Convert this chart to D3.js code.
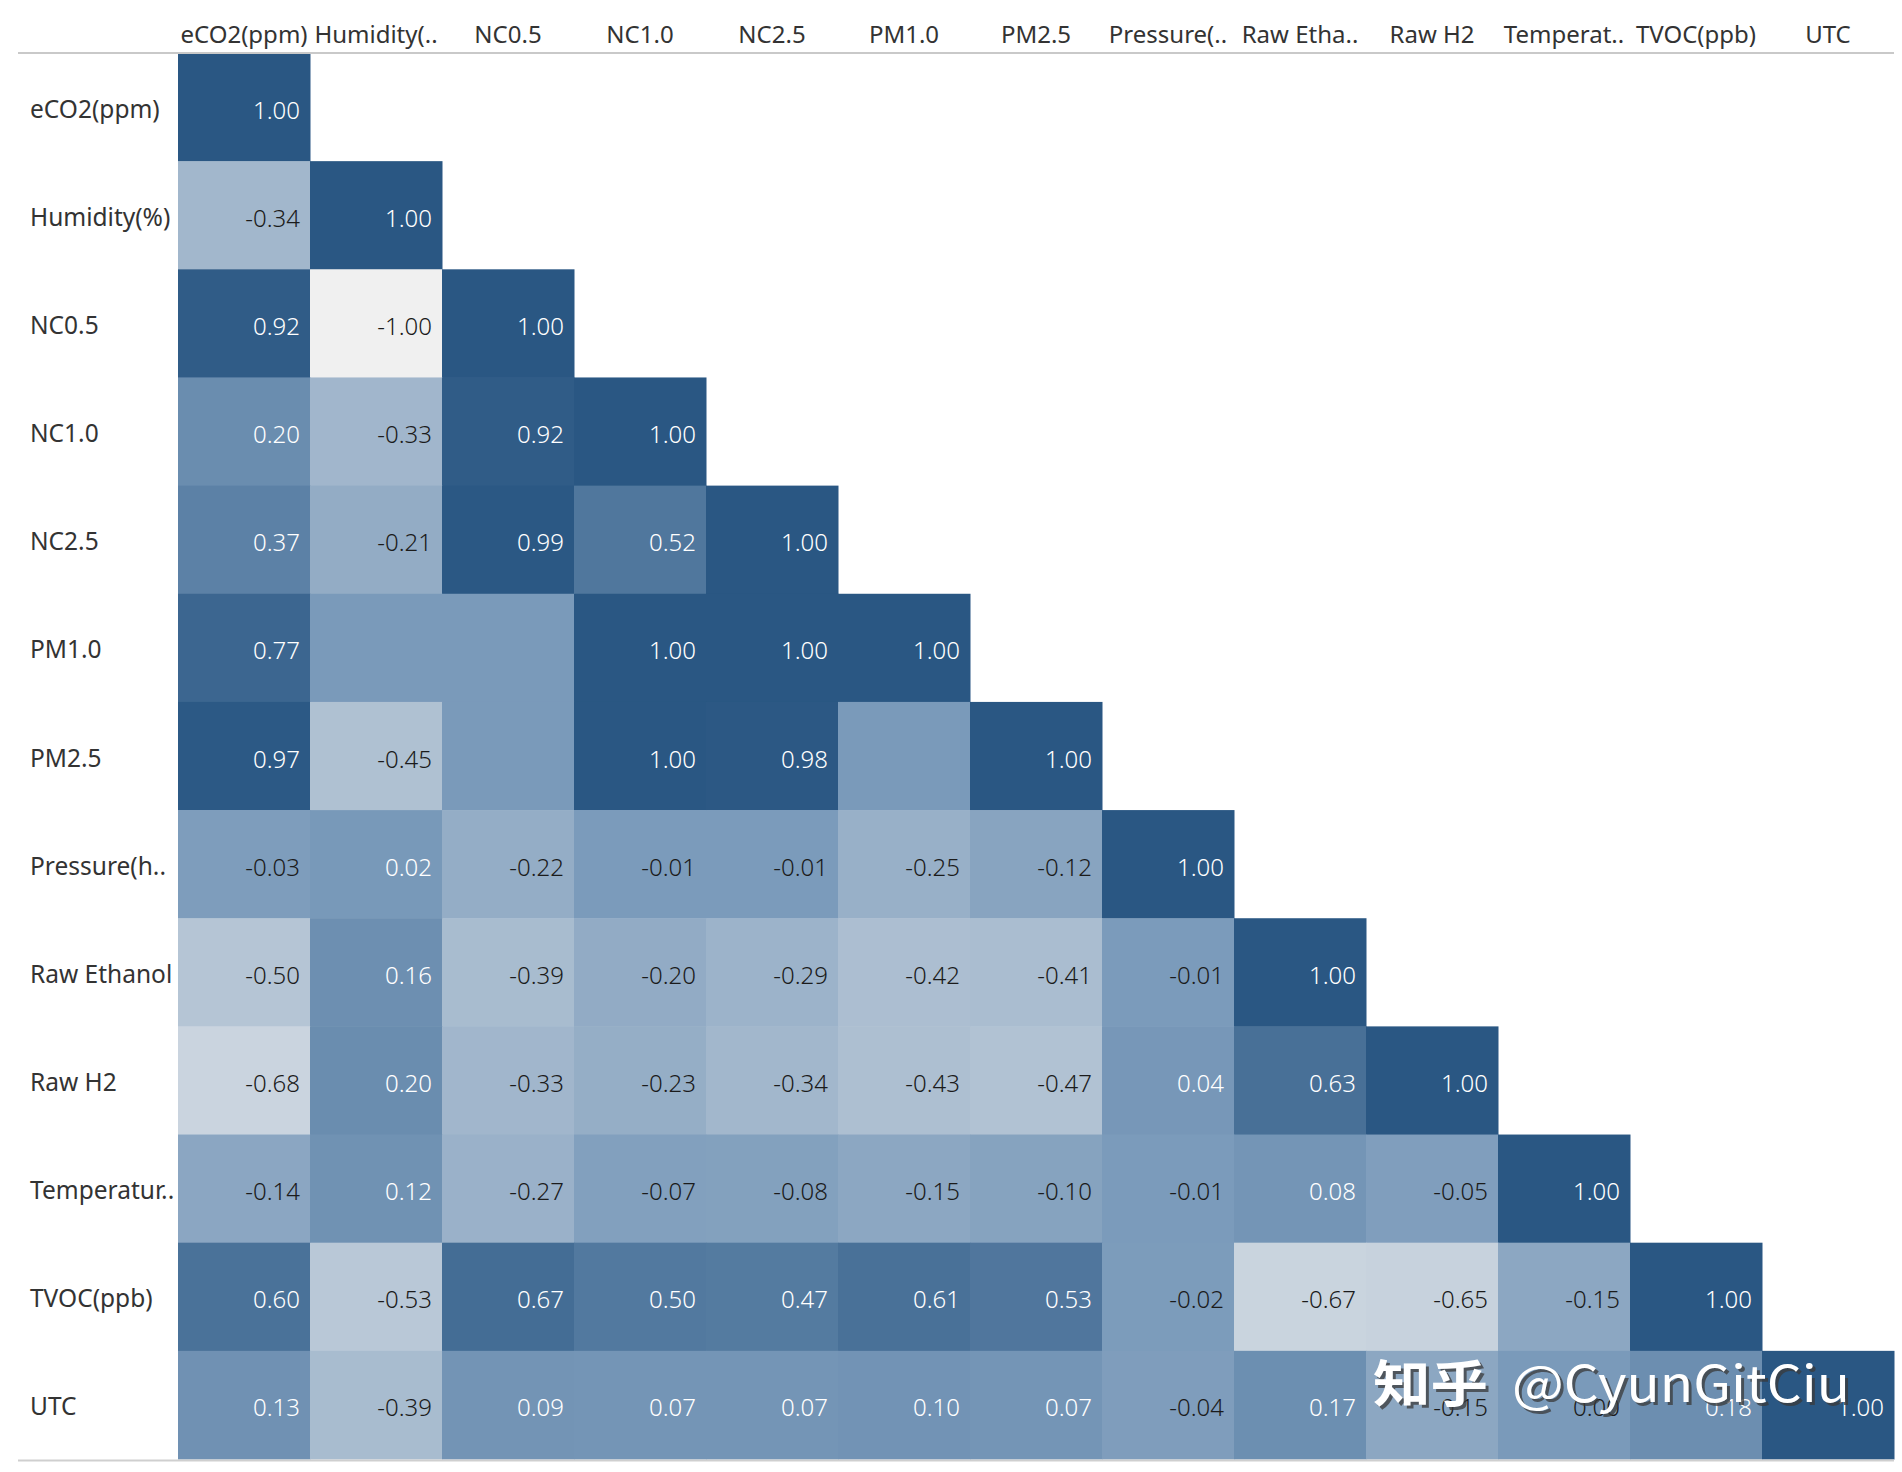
<!DOCTYPE html>
<html>
<head>
<meta charset="utf-8">
<script src="https://cdn.jsdelivr.net/npm/d3@7"></script>
<style>
  html, body { margin: 0; padding: 0; background: #ffffff; }
  svg { display: block; }
</style>
</head>
<body>
<svg id="chart" width="1902" height="1472"></svg>
<script>
// ---- data ----
const variables = ["eCO2(ppm)", "Humidity(%)", "NC0.5", "NC1.0", "NC2.5", "PM1.0", "PM2.5",
  "Pressure(hPa)", "Raw Ethanol", "Raw H2", "Temperature[C]", "TVOC(ppb)", "UTC"];
const columnLabels = ["eCO2(ppm)", "Humidity(..", "NC0.5", "NC1.0", "NC2.5", "PM1.0", "PM2.5",
  "Pressure(..", "Raw Etha..", "Raw H2", "Temperat..", "TVOC(ppb)", "UTC"];
const rowLabels = ["eCO2(ppm)", "Humidity(%)", "NC0.5", "NC1.0", "NC2.5", "PM1.0", "PM2.5",
  "Pressure(h..", "Raw Ethanol", "Raw H2", "Temperatur..", "TVOC(ppb)", "UTC"];
// lower-triangle correlation rows (null = no value shown)
const correlations = [
  [1.00],
  [-0.34, 1.00],
  [0.92, -1.00, 1.00],
  [0.20, -0.33, 0.92, 1.00],
  [0.37, -0.21, 0.99, 0.52, 1.00],
  [0.77, null, null, 1.00, 1.00, 1.00],
  [0.97, -0.45, null, 1.00, 0.98, null, 1.00],
  [-0.03, 0.02, -0.22, -0.01, -0.01, -0.25, -0.12, 1.00],
  [-0.50, 0.16, -0.39, -0.20, -0.29, -0.42, -0.41, -0.01, 1.00],
  [-0.68, 0.20, -0.33, -0.23, -0.34, -0.43, -0.47, 0.04, 0.63, 1.00],
  [-0.14, 0.12, -0.27, -0.07, -0.08, -0.15, -0.10, -0.01, 0.08, -0.05, 1.00],
  [0.60, -0.53, 0.67, 0.50, 0.47, 0.61, 0.53, -0.02, -0.67, -0.65, -0.15, 1.00],
  [0.13, -0.39, 0.09, 0.07, 0.07, 0.10, 0.07, -0.04, 0.17, -0.15, 0.00, 0.18, 1.00]
];
const watermark = ["知乎", "@CyunGitCiu"];

// ---- build ----
const svg = d3.select("#chart");
const gridLeft = 178, gridRight = 1894, gridTop = 53, gridBottom = 1459;
const x = d3.scaleBand().domain(d3.range(variables.length)).range([gridLeft, gridRight]).padding(0);
const y = d3.scaleBand().domain(d3.range(variables.length)).range([gridTop, gridBottom]).padding(0);
const color = d3.scaleLinear().domain([-1, 0, 1]).range(["#f0f0f0", "#7a9aba", "#2a5783"]);
const fmt = d3.formatLocale({ decimal: ".", thousands: ",", grouping: [3], currency: ["", ""], minus: "-" }).format(".2f");

const cells = [];
correlations.forEach((row, i) => row.forEach((v, j) => cells.push({ i, j, v })));

const fontFamily = "'Noto Sans', 'Open Sans', sans-serif";

svg.append("g").selectAll("rect").data(cells).join("rect")
  .attr("x", d => x(d.j))
  .attr("y", d => y(d.i))
  .attr("width", x.bandwidth() + 0.5)
  .attr("height", y.bandwidth() + 0.5)
  .attr("fill", d => color(d.v === null ? 0 : d.v));

svg.append("g").selectAll("text").data(cells.filter(d => d.v !== null)).join("text")
  .attr("x", d => x(d.j) + x.bandwidth() - 10)
  .attr("y", d => y(d.i) + y.bandwidth() / 2 + 2)
  .attr("text-anchor", "end")
  .attr("dominant-baseline", "central")
  .attr("font-family", fontFamily)
  .attr("font-weight", 300)
  .attr("font-size", 24)
  .attr("fill", d => d.v > 0 ? "#ffffff" : "#1b1b1b")
  .text(d => fmt(d.v));

// header line & bottom line
svg.append("line").attr("x1", 18).attr("x2", gridRight).attr("y1", gridTop).attr("y2", gridTop)
  .attr("stroke", "#c9c9c9").attr("stroke-width", 2);
svg.append("line").attr("x1", 18).attr("x2", gridRight).attr("y1", gridBottom + 1.5).attr("y2", gridBottom + 1.5)
  .attr("stroke", "#cfcfcf").attr("stroke-width", 2);

// column headers
svg.append("g").selectAll("text").data(columnLabels).join("text")
  .attr("x", (d, i) => x(i) + x.bandwidth() / 2)
  .attr("y", 43)
  .attr("text-anchor", "middle")
  .attr("font-family", fontFamily)
  .attr("font-size", 24)
  .attr("fill", "#333333")
  .text(d => d);

// row labels
svg.append("g").selectAll("text").data(rowLabels).join("text")
  .attr("x", 30)
  .attr("y", (d, i) => y(i) + y.bandwidth() / 2 + 1)
  .attr("dominant-baseline", "central")
  .attr("font-family", fontFamily)
  .attr("font-size", 24.5)
  .attr("fill", "#333333")
  .text(d => d);

// watermark
const wm = svg.append("g").attr("font-family", "'Noto Sans CJK SC', 'Noto Sans', sans-serif")
  .attr("font-size", 50);
[[3, 3, "#3a3a3a", 0.75], [0, 0, "#ffffff", 1]].forEach(([dx, dy, fill, op]) => {
  wm.append("text").attr("x", 1373 + dx).attr("y", 1402 + dy)
    .attr("fill", fill).attr("opacity", op).attr("font-weight", 700)
    .attr("textLength", 115).attr("lengthAdjust", "spacingAndGlyphs")
    .text(watermark[0]);
  wm.append("text").attr("x", 1512 + dx).attr("y", 1402 + dy)
    .attr("fill", fill).attr("opacity", op)
    .attr("textLength", 338).attr("lengthAdjust", "spacingAndGlyphs")
    .text(watermark[1]);
});
</script>
</body>
</html>
